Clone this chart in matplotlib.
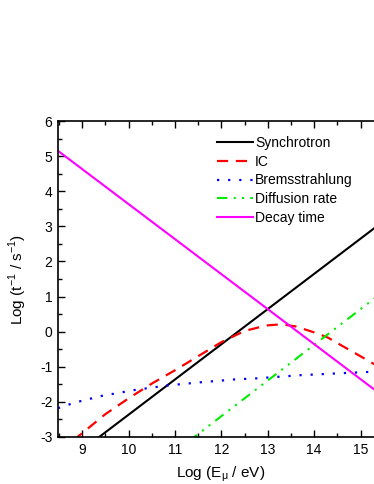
import matplotlib
matplotlib.use("agg")
import matplotlib.pyplot as plt
from matplotlib.ticker import MultipleLocator

plt.rcParams["font.family"] = ["Liberation Sans", "DejaVu Sans"]
plt.rcParams["axes.unicode_minus"] = False

# log E (eV) vs log rate (1/s)
sync_x = [8.5, 15.6]
sync_y = [-3.87, 3.25]

ic_x = [8.5, 8.9, 9.5, 10.0, 10.5, 11.0, 11.5, 12.0, 12.5, 12.8, 13.0, 13.3, 13.6, 14.0, 14.3, 14.6, 15.0, 15.3, 15.6]
ic_y = [-3.45, -3.0, -2.35, -1.9, -1.48, -1.1, -0.7, -0.3, 0.02, 0.12, 0.18, 0.21, 0.15, -0.02, -0.17, -0.4, -0.7, -0.93, -1.18]

brems_x = [8.48, 8.84, 9.42, 10.14, 10.85, 11.57, 12.29, 12.76, 13.7, 14.78, 15.3, 15.6]
brems_y = [-2.18, -2.02, -1.83, -1.66, -1.53, -1.44, -1.36, -1.33, -1.24, -1.17, -1.14, -1.12]

diff_x = [11.3, 15.6]
diff_y = [-3.12, 1.25]

decay_x = [8.48, 15.6]
decay_y = [5.15, -1.95]

fig = plt.figure(figsize=(3.74, 4.84), dpi=100)
ax = fig.add_axes([58 / 374, 1 - 437 / 484, 325.7 / 374, 316 / 484])

ax.plot(sync_x, sync_y, color="black", lw=1.5, label="Synchrotron")
ax.plot(ic_x, ic_y, color="red", lw=1.6, ls=(0, (5, 3.5)), label="IC")
ax.plot(brems_x, brems_y, color="blue", lw=1.6, ls=(0, (1, 4)), label="Bremsstrahlung")
ax.plot(diff_x, diff_y, color="#00ee00", lw=1.5, ls=(0, (5, 3, 1, 3, 1, 3)), label="Diffusion rate")
ax.plot(decay_x, decay_y, color="magenta", lw=1.5, label="Decay time")

ax.set_xlim(8.48, 15.5)
ax.set_ylim(-3, 6)
ax.xaxis.set_major_locator(MultipleLocator(1))
ax.xaxis.set_minor_locator(MultipleLocator(0.5))
ax.yaxis.set_major_locator(MultipleLocator(1))
ax.yaxis.set_minor_locator(MultipleLocator(0.5))
ax.tick_params(which="both", direction="in", top=True, right=True, labelsize=10, width=1)
ax.tick_params(which="major", length=5, pad=4)
ax.tick_params(which="minor", length=3)
for s in ax.spines.values():
    s.set_linewidth(1.2)

ax.set_xlabel(r"Log (E$_\mathregular{\mu}$ / eV)", fontsize=11, labelpad=6)
ax.set_ylabel(r"Log (t$^\mathregular{-1}$ / s$^\mathregular{-1}$)", fontsize=11, labelpad=8)

ax.legend(loc="upper left", bbox_to_anchor=(0.47, 0.97), frameon=False, fontsize=10,
          handlelength=2.6, handletextpad=0.15, labelspacing=0.34, borderaxespad=0)

fig.savefig("out.png", dpi=100)
